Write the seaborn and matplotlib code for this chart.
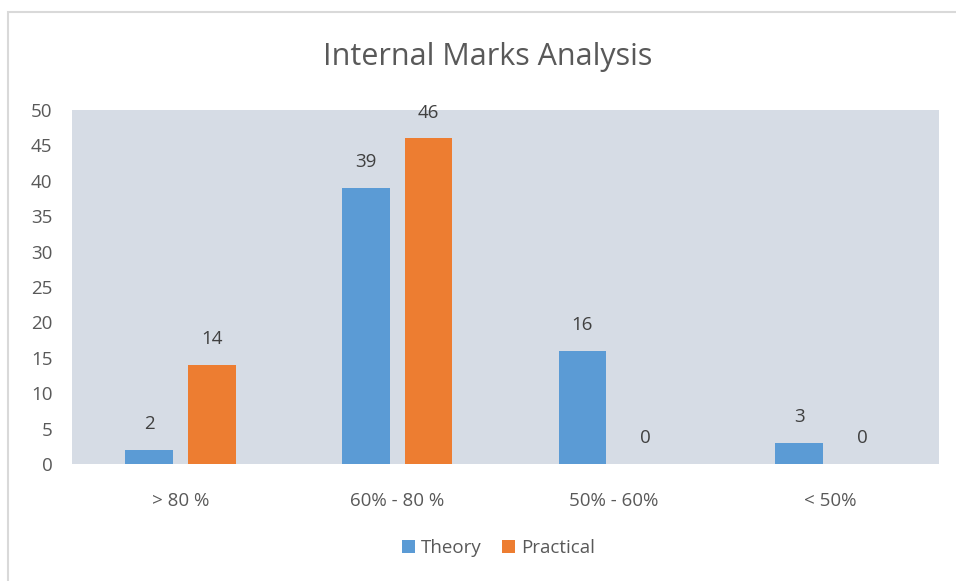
import pandas as pd
import matplotlib.pyplot as plt
import seaborn as sns
from matplotlib.patches import Rectangle

# data
categories = ["> 80 %", "60% - 80 %", "50% - 60%", "< 50%"]
theory = [2, 39, 16, 3]
practical = [14, 46, 0, 0]
series = ["Theory", "Practical"]

df = pd.DataFrame({
    "range": categories * 2,
    "count": theory + practical,
    "type": [series[0]] * 4 + [series[1]] * 4,
})

sns.set_style("white")
plt.rcParams["font.family"] = ["Open Sans", "DejaVu Sans"]
txt = "#595959"

fig = plt.figure(figsize=(9.56, 5.81), dpi=100)
ax = fig.add_axes([72 / 956, 1 - 464 / 581, (939 - 72) / 956, (464 - 110) / 581])

sns.barplot(data=df, x="range", y="count", hue="type", order=categories,
            palette=["#5B9BD5", "#ED7D31"], width=0.58, gap=0.24,
            saturation=1, linewidth=0, ax=ax, legend=True)

ax.set_facecolor("#D6DCE5")
ax.set_ylim(0, 50)
ax.set_yticks(range(0, 51, 5))
ax.set_xlim(-0.5, 3.5)
for s in ax.spines.values():
    s.set_visible(False)
ax.set_xlabel("")
ax.set_ylabel("")
ax.tick_params(axis="both", length=0, labelsize=13.5, colors=txt)
ax.tick_params(axis="x", pad=20)
ax.tick_params(axis="y", pad=14)

# value labels
for cont in ax.containers:
    for bar in cont:
        h = bar.get_height()
        ax.annotate(f"{h:.0f}", (bar.get_x() + bar.get_width() / 2, h),
                    xytext=(0, 18.5), textcoords="offset points",
                    ha="center", va="center", fontsize=13.5, color="#404040")

leg = ax.legend(loc="center", bbox_to_anchor=(0.4915, -0.238), ncol=2,
                frameon=False, fontsize=13.5, handlelength=0.7, handleheight=0.7,
                columnspacing=1.1, handletextpad=0.3)
for t in leg.get_texts():
    t.set_color(txt)

fig.text(488 / 956, 1 - 57 / 581, "Internal Marks Analysis", ha="center",
         va="center", fontsize=22, color=txt)

# outer chart frame
fig.add_artist(Rectangle((8 / 956, -0.1), 1.1, 1 - 12 / 581 + 0.1,
                         transform=fig.transFigure, fill=False,
                         edgecolor="#D9D9D9", lw=1.5))

fig.savefig("out.png", dpi=100)
